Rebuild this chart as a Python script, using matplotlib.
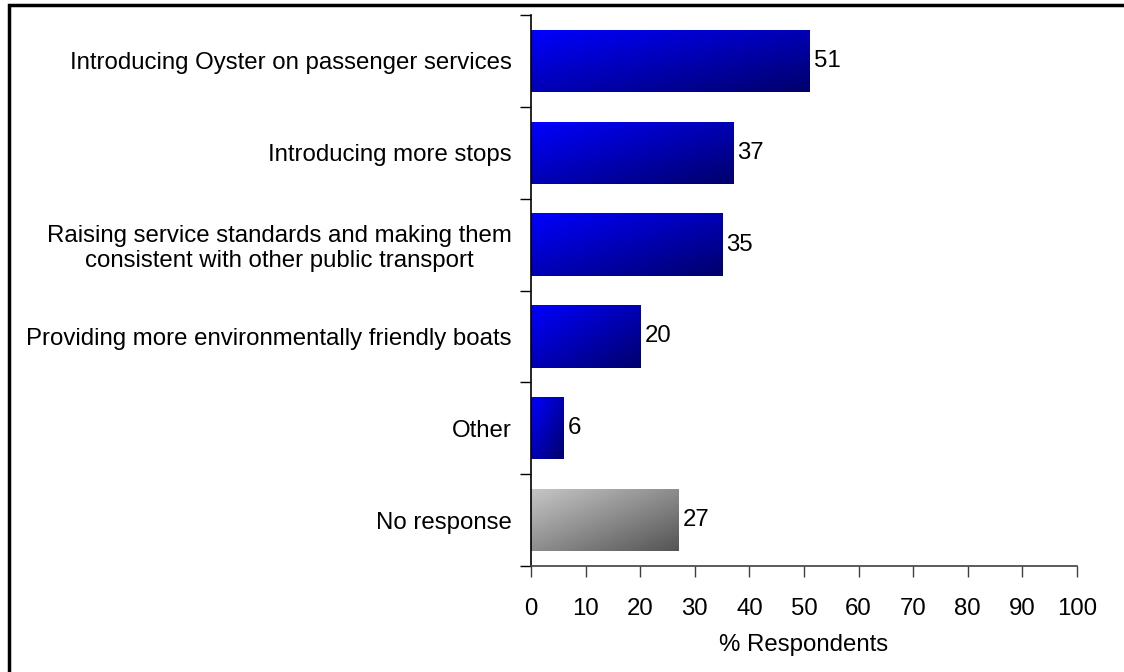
import numpy as np
import matplotlib.pyplot as plt
from matplotlib.patches import Rectangle

# survey answers, top to bottom
categories = [
    "Introducing Oyster on passenger services",
    "Introducing more stops",
    "Raising service standards and making them\nconsistent with other public transport",
    "Providing more environmentally friendly boats",
    "Other",
    "No response",
]
values = [51, 37, 35, 20, 6, 27]
is_no_response = [False, False, False, False, False, True]
x_ticks = [0, 10, 20, 30, 40, 50, 60, 70, 80, 90, 100]

plt.rcParams['font.family'] = ['Liberation Sans', 'DejaVu Sans']
FS = 17.3

fig = plt.figure(figsize=(11.24, 6.72), dpi=100)

# outer frame (only top and left edges show in the reference)
fig.patches.append(Rectangle((9 / 1124, -0.1), 2.0, (672 - 5) / 672 + 0.1,
                             transform=fig.transFigure, fill=False,
                             edgecolor='black', linewidth=2.5, zorder=0))

ax = fig.add_axes([531 / 1124, 1 - 566 / 672, 546 / 1124, 551 / 672])

n = len(categories)
pos = np.arange(n)[::-1]  # first category on top
bar_h = 0.68


def gradient(light, dark):
    # diagonal shade: light at top-left, dark at bottom-right
    g = np.linspace(0, 1, 64)
    t = (g[None, :] + g[:, None]) / 2
    light = np.array(light)
    dark = np.array(dark)
    return light[None, None, :] * (1 - t[..., None]) + dark[None, None, :] * t[..., None]


blue_img = gradient((0.0, 0.0, 1.0), (0.0, 0.0, 0.42))
grey_img = gradient((0.78, 0.78, 0.78), (0.33, 0.33, 0.33))

bars = ax.barh(pos, values, height=bar_h, color='none', edgecolor='none')
for bar, v, grey in zip(bars, values, is_no_response):
    x0, y0 = bar.get_x(), bar.get_y()
    w, h = bar.get_width(), bar.get_height()
    img = grey_img if grey else blue_img
    im = ax.imshow(img, extent=(x0, x0 + w, y0, y0 + h), origin='upper',
                   aspect='auto', interpolation='bilinear', zorder=2)
    im.set_clip_path(bar)
    ax.text(v + 0.8, y0 + h / 2, str(v), va='center', ha='left', fontsize=FS)

ax.set_xlim(0, 100)
ax.set_ylim(-0.5, n - 0.5)
ax.set_xticks(x_ticks)
ax.set_xticklabels([str(t) for t in x_ticks], fontsize=FS)
ax.set_yticks(pos)
ax.set_yticklabels(categories, fontsize=FS, multialignment='center')
ax.set_yticks(np.arange(n + 1) - 0.5, minor=True)
ax.tick_params(axis='y', which='major', length=0, pad=14)
ax.tick_params(axis='y', which='minor', length=8, width=1, direction='out')
ax.tick_params(axis='x', length=8, width=1, direction='out', pad=15,
               color='#404040')
ax.set_xlabel('% Respondents', fontsize=FS, labelpad=10)

for s in ['top', 'right']:
    ax.spines[s].set_visible(False)
ax.spines['left'].set_linewidth(1.2)
ax.spines['bottom'].set_color('#404040')
ax.spines['bottom'].set_linewidth(1.2)

fig.savefig('out.png', dpi=100)
